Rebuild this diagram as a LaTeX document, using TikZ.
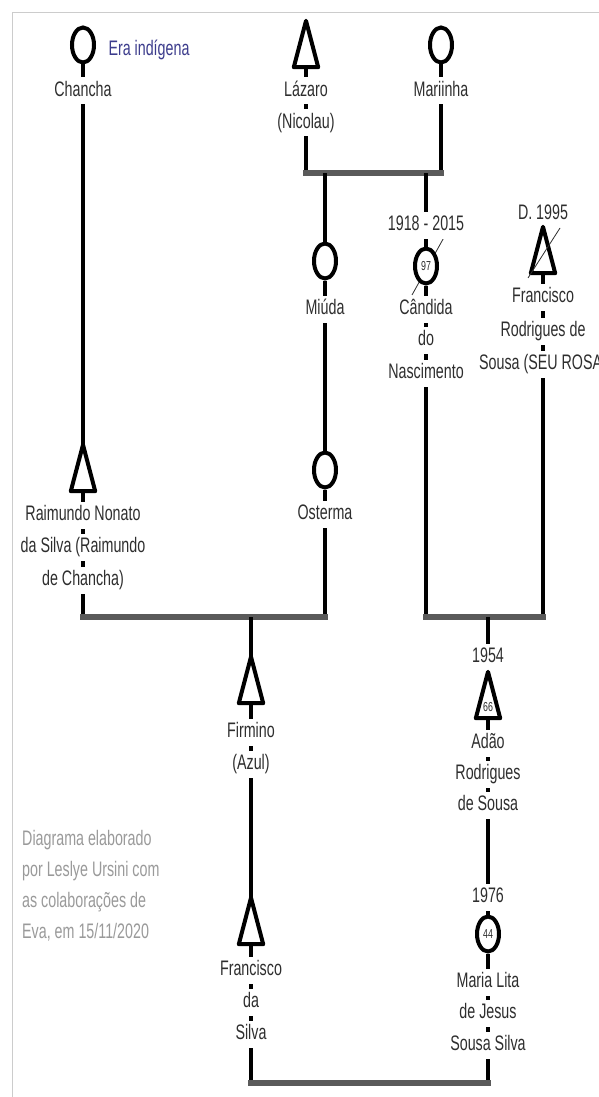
\documentclass[tikz,border=0pt]{standalone}
\usepackage{fontspec}
\setmainfont{Liberation Sans}[FakeStretch=0.68]
\usepackage{tikz}
\usetikzlibrary{backgrounds,shapes.geometric}
\definecolor{kinink}{HTML}{2E2E2E}
\definecolor{kinbar}{HTML}{5A5A5A}
\definecolor{kinblue}{HTML}{3C3C8C}
\definecolor{kincredit}{HTML}{9A9A9A}
\definecolor{kinframe}{HTML}{CCCCCC}
\newcommand\kinfont{\fontsize{21}{31}\selectfont}
\newcommand\kinsmall{\fontsize{13}{15}\selectfont}
\tikzset{
  kinman/.style={minimum width=24pt,minimum height=46pt,inner sep=0pt},
  kinwoman/.style={ellipse,draw=black,line width=4pt,fill=white,minimum width=22pt,minimum height=35pt,inner sep=0pt},
  kinsym/.style={draw=black,line width=4pt,fill=white,line join=round},
  kinname/.style={fill=white,text=kinink,font=\kinfont,inner xsep=2pt,inner ysep=3pt,text height=16pt,text depth=5pt},
  kinage/.style={text=kinink,font=\kinsmall,inner sep=0pt},
  kinline/.style={draw=black,line width=3.3pt},
  kinunion/.style={draw=kinbar,line width=5.5pt,line cap=rect},
  kindead/.style={draw=kinink,line width=0.8pt}
}

\begin{document}
\begin{tikzpicture}[x=1pt,y=-1pt]
\useasboundingbox (0,0) rectangle (599,1097);
% first generation
\node[kinwoman] (cha) at (83,45) {};
\node[kinname] (cha1) at (83,91) {Chancha};
\node[font=\kinfont,text=kinblue,inner sep=1pt] (era) at (149,50) {Era indígena};
\node[kinman] (laz) at (306,44) {};
\node[kinname] (laz1) at (306,91) {Lázaro};
\node[kinname] (laz2) at (306,123) {(Nicolau)};
\node[kinwoman] (mar) at (441,45) {};
\node[kinname] (mar1) at (441,91) {Mariinha};
\coordinate (u1) at (0,173);
% second generation
\node[kinwoman] (miu) at (325,261) {};
\node[kinname] (miu1) at (325,309) {Miúda};
\node[kinname] (can0) at (426,225) {1918 - 2015};
\node[kinwoman] (can) at (426,266) {};
\node[kinage] (can97) at (can) {97};
\node[kinname] (can1) at (426,309) {Cândida};
\node[kinname] (can2) at (426,340) {do};
\node[kinname] (can3) at (426,373) {Nascimento};
\node[kinname] (rosa0) at (543,214) {D. 1995};
\node[kinman] (rosa) at (543,250) {};
\node[kinname] (rosa1) at (543,297) {Francisco};
\node[kinname] (rosa2) at (543,331) {Rodrigues de};
\node[kinname] (rosa3) at (543,364) {Sousa (SEU ROSA)};
\coordinate (cand1) at (412,295);
\coordinate (cand2) at (447,232);
\coordinate (rosad1) at (528,278);
\coordinate (rosad2) at (560,228);
% third generation
\node[kinwoman] (ost) at (325,470) {};
\node[kinname] (ost1) at (325,514) {Osterma};
\node[kinman] (ray) at (83,468) {};
\node[kinname] (ray1) at (83,515) {Raimundo Nonato};
\node[kinname] (ray2) at (83,547) {da Silva (Raimundo};
\node[kinname] (ray3) at (83,580) {de Chancha)};
\coordinate (u2) at (0,617);
% fourth generation
\node[kinman] (fir) at (251,680) {};
\node[kinname] (fir1) at (251,732) {Firmino};
\node[kinname] (fir2) at (251,764) {(Azul)};
\node[kinname] (ada0) at (488,657) {1954};
\node[kinman] (ada) at (488,695) {};
\node[kinname] (ada1) at (488,743) {Adão};
\node[kinname] (ada2) at (488,774) {Rodrigues};
\node[kinname] (ada3) at (488,805) {de Sousa};
% fifth generation
\node[kinman] (fra) at (251,921) {};
\node[kinname] (fra1) at (251,970) {Francisco};
\node[kinname] (fra2) at (251,1002) {da};
\node[kinname] (fra3) at (251,1034) {Silva};
\node[kinname] (lit0) at (488,897) {1976};
\node[kinwoman] (lit) at (488,934) {};
\node[kinage] (lit44) at (lit) {44};
\node[kinname] (lit1) at (488,982) {Maria Lita};
\node[kinname] (lit2) at (488,1013) {de Jesus};
\node[kinname] (lit3) at (488,1045) {Sousa Silva};
\coordinate (u4) at (0,1083);
\node[font=\kinfont,text=kincredit,align=left,anchor=north west,inner sep=0pt] (credit) at (22,830)
  {Diagrama elaborado\\por Leslye Ursini com\\as colaborações de\\Eva, em 15/11/2020};
% men as triangles
\foreach \n in {laz,ray,rosa,fir,ada,fra}
  \draw[kinsym] (\n.south west) -- (\n.north) -- (\n.south east) -- cycle;
\node[kinage] (ada66) at (488,707) {66};
\draw[kindead] (rosad1) -- (rosad2);
% lines of descent and unions
\begin{scope}[on background layer]
\fill[white] (0,0) rectangle (599,1097);
\draw[kinframe,line width=1.2pt] (599,12.5) -- (12.5,12.5) -- (12.5,1097);
\draw[kinline] (cha.south) -- (ray.north);
\draw[kinline] (laz.south) -- (laz |- u1);
\draw[kinline] (mar.south) -- (mar |- u1);
\draw[kinunion] (laz |- u1) -- (mar |- u1);
\draw[kinline] (miu |- u1) -- (miu.north);
\draw[kinline] (can |- u1) -- (can.north);
\draw[kinline] (miu.south) -- (ost.north);
\draw[kinline] (ost.south) -- (ost |- u2);
\draw[kinline] (ray.south) -- (ray |- u2);
\draw[kinunion] (ray |- u2) -- (ost |- u2);
\draw[kinline] (can.south) -- (can |- u2);
\draw[kinline] (rosa.south) -- (rosa |- u2);
\draw[kinunion] (can |- u2) -- (rosa |- u2);
\draw[kinline] (fir |- u2) -- (fir.north);
\draw[kinline] (ada |- u2) -- (ada.north);
\draw[kinline] (fir.south) -- (fra.north);
\draw[kinline] (ada.south) -- (lit.north);
\draw[kinline] (fra.south) -- (fra |- u4);
\draw[kinline] (lit.south) -- (lit |- u4);
\draw[kinunion] (fra |- u4) -- (lit |- u4);
\draw[kindead] (cand1) -- (cand2);
\end{scope}
\end{tikzpicture}
\end{document}
